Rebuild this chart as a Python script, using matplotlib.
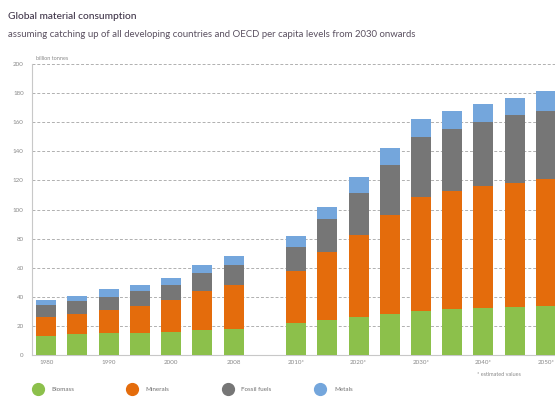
import matplotlib.pyplot as plt
from matplotlib.lines import Line2D
import numpy as np

plt.rcParams['font.family'] = ['Lato', 'DejaVu Sans']

# bar positions (slot index) and labels
years = ['1980', '1985', '1990', '1995', '2000', '2005', '2008',
         '2010', '2015', '2020', '2025', '2030', '2035', '2040', '2045', '2050']
slots = [0, 1, 2, 3, 4, 5, 6, 8, 9, 10, 11, 12, 13, 14, 15, 16]
tick_slots = [0, 2, 4, 6, 8, 10, 12, 14, 16]
tick_labels = ['1980', '1990', '2000', '2008', '2010*', '2020*', '2030*', '2040*', '2050*']

# billion tonnes, per material
biomass = [13.3, 14.5, 15.0, 15.0, 16.0, 17.2, 17.7,
           21.8, 24.1, 26.4, 28.3, 30.3, 31.5, 32.4, 32.9, 33.8]
minerals = [12.7, 13.8, 16.0, 18.8, 22.0, 26.7, 30.3,
            36.1, 46.9, 56.4, 68.0, 78.2, 81.1, 83.7, 85.5, 87.3]
fossil_fuels = [8.3, 8.5, 9.2, 10.1, 10.0, 12.4, 13.8,
                16.4, 22.8, 28.7, 34.5, 41.6, 43.0, 44.1, 46.4, 46.9]
metals = [3.7, 3.9, 5.1, 4.1, 5.0, 5.5, 6.5,
          7.3, 8.0, 10.8, 11.3, 12.0, 12.0, 12.7, 12.0, 13.4]

series = [('Biomass', biomass, '#8cc04b'),
          ('Minerals', minerals, '#e46c0c'),
          ('Fossil fuels', fossil_fuels, '#767676'),
          ('Metals', metals, '#74a6dc')]

fig = plt.figure(figsize=(5.55, 3.98), dpi=100)
ax = fig.add_axes([0.058, 0.108, 0.942, 0.731])

bottom = np.zeros(len(slots))
for name, vals, col in series:
    ax.bar(slots, vals, width=0.64, bottom=bottom, color=col, zorder=3)
    bottom += np.array(vals)

ax.set_ylim(0, 200)
ax.set_xlim(-0.45, 16.29)
ax.set_yticks(np.arange(0, 201, 20))
ax.set_xticks(tick_slots)
ax.set_xticklabels(tick_labels)
ax.tick_params(axis='both', length=0, labelsize=4.5, colors='#8a8a8a')
ax.tick_params(axis='y', pad=6)
ax.grid(axis='y', linestyle=(0, (3, 2)), color='#b0b0b0', linewidth=0.7, zorder=0)
for s in ['top', 'right']:
    ax.spines[s].set_visible(False)
for s in ['left', 'bottom']:
    ax.spines[s].set_color('#c8c8c8')
    ax.spines[s].set_linewidth(0.8)

fig.text(0.014, 0.958, 'Global material consumption', fontsize=7.3,
         color='#3f3448', va='center', fontweight='medium')
fig.text(0.014, 0.913, 'assuming catching up of all developing countries and OECD per capita levels from 2030 onwards',
         fontsize=6.9, color='#5a5060', va='center')
fig.text(0.065, 0.852, 'billion tonnes', fontsize=4, color='#8a8a8a', va='center')
fig.text(0.86, 0.058, '* estimated values', fontsize=4, color='#8a8a8a', va='center')

# legend
leg_x = [0.068, 0.237, 0.41, 0.577]
for (name, vals, col), lx in zip(series, leg_x):
    fig.add_artist(Line2D([lx], [0.022], marker='o', markersize=8.5, color=col,
                          transform=fig.transFigure))
    fig.text(lx + 0.025, 0.022, name, fontsize=4.5, color='#707070', va='center')

fig.savefig('out.png', dpi=100)
